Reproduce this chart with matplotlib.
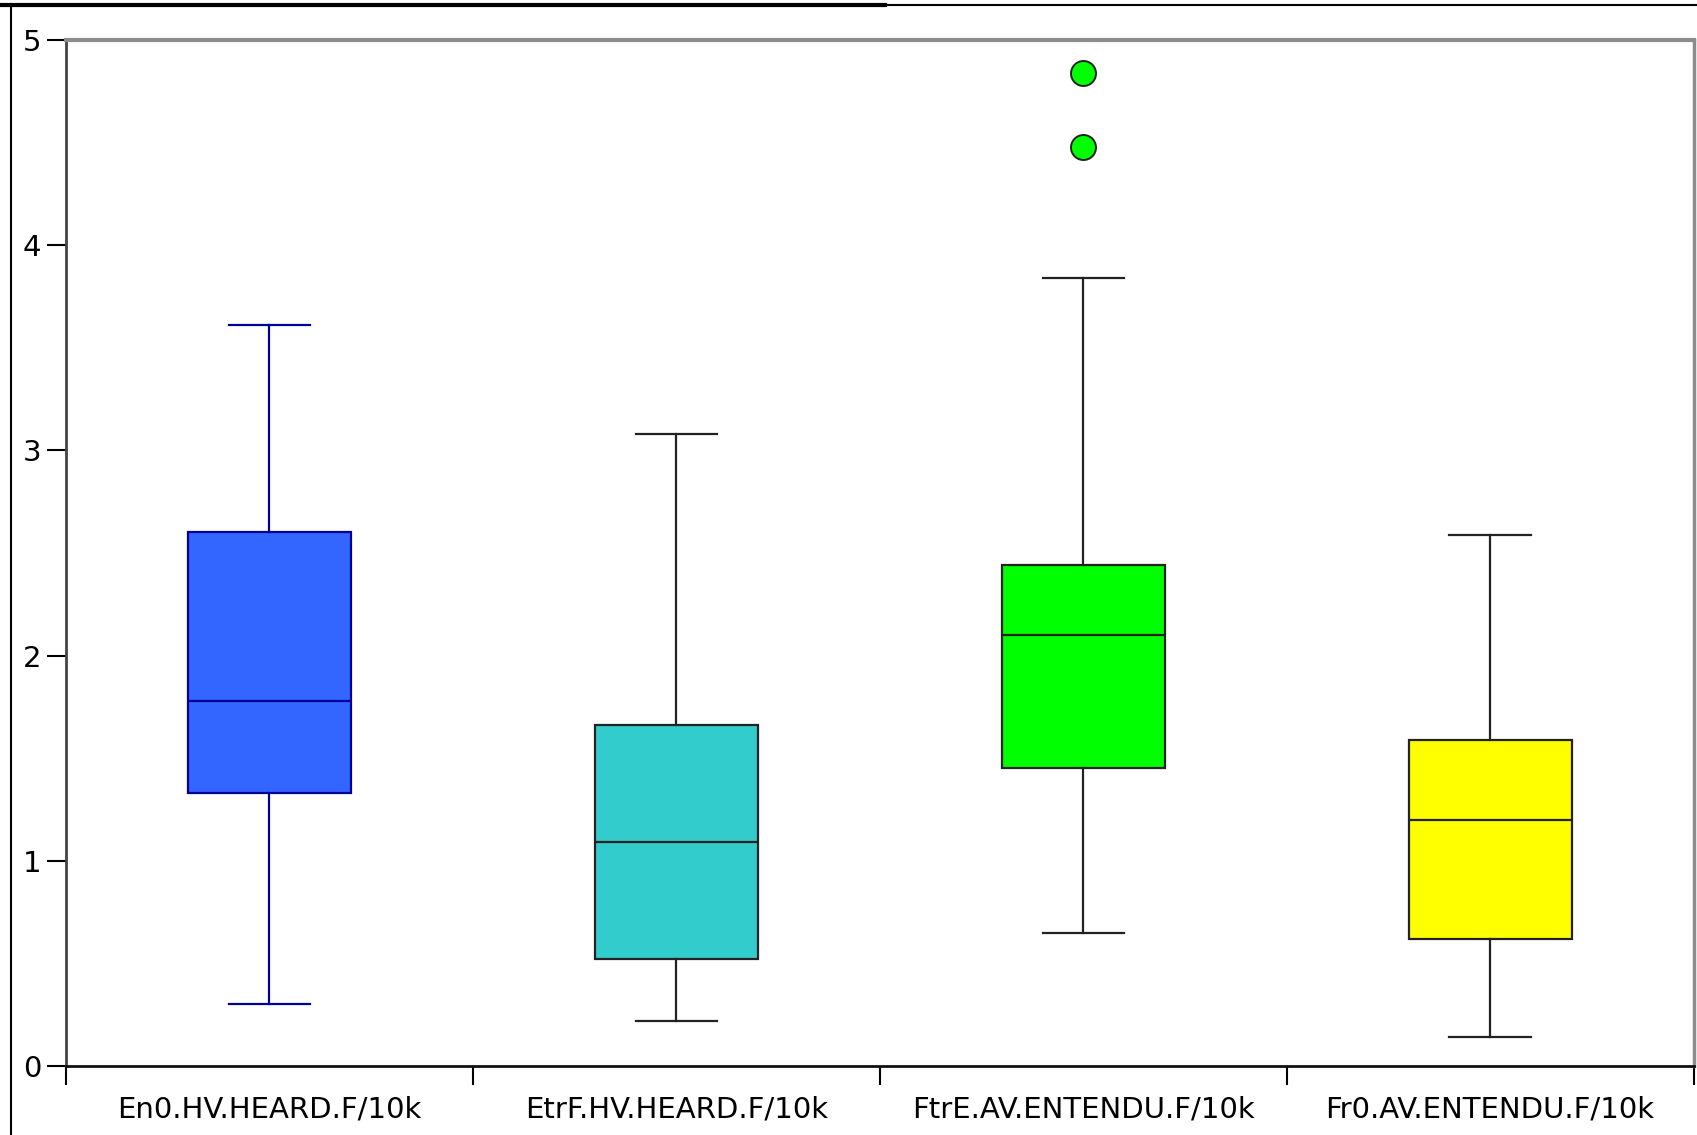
import matplotlib.pyplot as plt
from matplotlib.lines import Line2D

# Statistiques des boîtes (valeurs pour 10k mots)
categories = ['En0.HV.HEARD.F/10k', 'EtrF.HV.HEARD.F/10k',
              'FtrE.AV.ENTENDU.F/10k', 'Fr0.AV.ENTENDU.F/10k']
whisker_low = [0.30, 0.22, 0.65, 0.14]
q1 = [1.33, 0.52, 1.45, 0.62]
median = [1.78, 1.09, 2.10, 1.20]
q3 = [2.60, 1.66, 2.44, 1.59]
whisker_high = [3.61, 3.08, 3.84, 2.59]
outliers = [[], [], [4.84, 4.48], []]

face_colors = ['#3366ff', '#33cccc', '#00ff00', '#ffff00']
edge_colors = ['#000099', '#222222', '#222222', '#222222']

fig = plt.figure(figsize=(16.97, 11.35), dpi=100)
ax = fig.add_axes([0.0389, 0.0608, 0.9591, 0.904])

for i in range(len(categories)):
    stats = [{
        'whislo': whisker_low[i], 'q1': q1[i], 'med': median[i],
        'q3': q3[i], 'whishi': whisker_high[i], 'fliers': outliers[i],
    }]
    ec = edge_colors[i]
    ax.bxp(stats, positions=[i + 0.5], widths=0.4, patch_artist=True,
           showfliers=True,
           boxprops=dict(facecolor=face_colors[i], edgecolor=ec, linewidth=1.6),
           medianprops=dict(color=ec, linewidth=1.6),
           whiskerprops=dict(color=ec, linewidth=1.6),
           capprops=dict(color=ec, linewidth=1.6),
           flierprops=dict(marker='o', markerfacecolor=face_colors[i],
                           markeredgecolor='#222222', markersize=18,
                           markeredgewidth=1.4))

ax.set_xlim(0, 4)
ax.set_ylim(0, 5)

# Graduations : séparateurs en majeur, noms de catégories en mineur
ax.set_xticks(range(5))
ax.set_xticklabels([])
ax.set_xticks([i + 0.5 for i in range(4)], minor=True)
ax.set_xticklabels(categories, minor=True)
ax.tick_params(axis='x', which='minor', length=0, pad=21, labelsize=21)
ax.tick_params(axis='x', which='major', length=14, width=1.5, direction='out')
ax.set_yticks(range(6))
ax.tick_params(axis='y', length=14, width=1.5, labelsize=21, pad=4)

ax.spines['bottom'].set_color('#111111')
ax.spines['bottom'].set_linewidth(2)
ax.spines['left'].set_color('#444444')
ax.spines['left'].set_linewidth(2)
ax.spines['top'].set_color('#8c8c8c')
ax.spines['top'].set_linewidth(3)
ax.spines['right'].set_color('#8c8c8c')
ax.spines['right'].set_linewidth(2.5)

# Cadre extérieur
fig.add_artist(Line2D([0, 0.5215], [0.9956, 0.9956], color='black', linewidth=3))
fig.add_artist(Line2D([0.5215, 1], [0.9956, 0.9956], color='black', linewidth=1.5))
fig.add_artist(Line2D([0.0065, 0.0065], [0, 0.9956], color='black', linewidth=1.5))

fig.savefig('out.png', dpi=100)
